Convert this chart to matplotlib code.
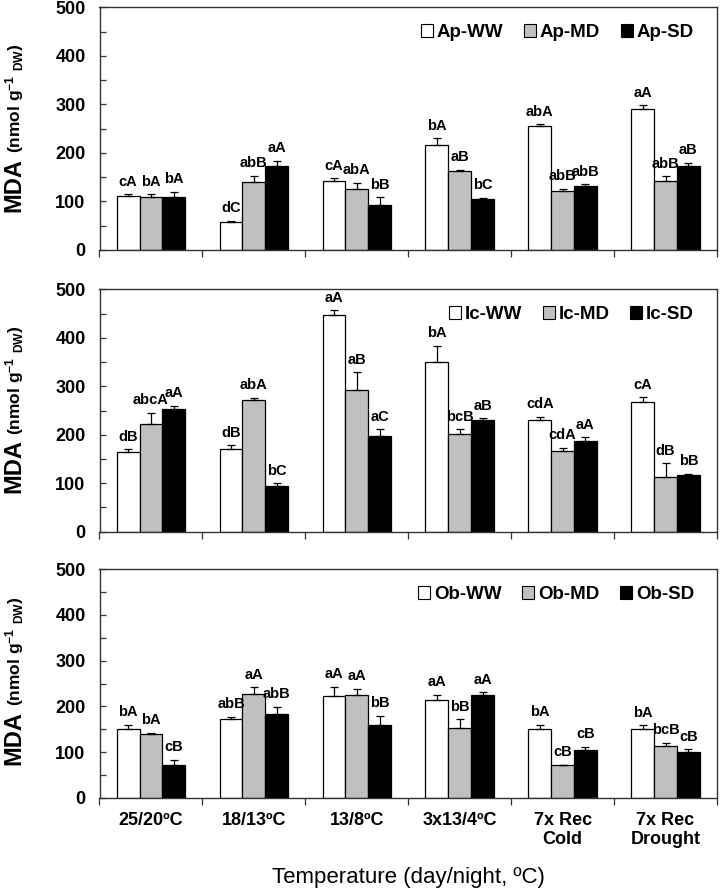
import matplotlib
matplotlib.use("Agg")
import matplotlib.pyplot as plt
from matplotlib.patches import Patch
import numpy as np

plt.rcParams['font.family'] = ['Liberation Sans', 'DejaVu Sans']
plt.rcParams['font.weight'] = 'bold'
plt.rcParams['mathtext.fontset'] = 'custom'
plt.rcParams['mathtext.rm'] = 'Liberation Sans:bold'
plt.rcParams['mathtext.bf'] = 'Liberation Sans:bold'
plt.rcParams['mathtext.it'] = 'Liberation Sans:bold'

categories = ["25/20ºC", "18/13ºC", "13/8ºC", "3x13/4ºC", "7x Rec\nCold", "7x Rec\nDrought"]
treatments = ["WW", "MD", "SD"]
species = ["Ap", "Ic", "Ob"]

# Ap
ap_ww = [111, 57, 143, 216, 255, 290]
ap_md = [110, 141, 126, 163, 122, 142]
ap_sd = [110, 174, 92, 105, 131, 173]
ap_ww_err = [4, 3, 5, 14, 4, 8]
ap_md_err = [5, 12, 12, 2, 4, 10]
ap_sd_err = [10, 10, 17, 3, 4, 7]
ap_ww_lab = ["cA", "dC", "cA", "bA", "abA", "aA"]
ap_md_lab = ["bA", "abB", "abA", "aB", "abB", "abB"]
ap_sd_lab = ["bA", "aA", "bB", "bC", "abB", "aB"]

# Ic
ic_ww = [164, 171, 447, 350, 231, 267]
ic_md = [223, 272, 292, 202, 166, 113]
ic_sd = [253, 95, 198, 231, 188, 116]
ic_ww_err = [6, 7, 10, 33, 6, 10]
ic_md_err = [22, 4, 37, 9, 7, 28]
ic_sd_err = [7, 5, 13, 3, 7, 3]
ic_ww_lab = ["dB", "dB", "aA", "bA", "cdA", "cA"]
ic_md_lab = ["abcA", "abA", "aB", "bcB", "cdA", "dB"]
ic_sd_lab = ["aA", "bC", "aC", "aB", "aA", "bB"]

# Ob
ob_ww = [151, 172, 223, 213, 151, 151]
ob_md = [140, 227, 225, 152, 71, 113]
ob_sd = [73, 184, 160, 225, 105, 101]
ob_ww_err = [9, 5, 20, 12, 9, 8]
ob_md_err = [2, 15, 13, 20, 1, 8]
ob_sd_err = [11, 15, 20, 6, 7, 5]
ob_ww_lab = ["bA", "abB", "aA", "aA", "bA", "bA"]
ob_md_lab = ["bA", "aA", "aA", "bB", "cB", "bcB"]
ob_sd_lab = ["cB", "abB", "bB", "aA", "cB", "cB"]

panels = [
    ("Ap", [ap_ww, ap_md, ap_sd], [ap_ww_err, ap_md_err, ap_sd_err], [ap_ww_lab, ap_md_lab, ap_sd_lab]),
    ("Ic", [ic_ww, ic_md, ic_sd], [ic_ww_err, ic_md_err, ic_sd_err], [ic_ww_lab, ic_md_lab, ic_sd_lab]),
    ("Ob", [ob_ww, ob_md, ob_sd], [ob_ww_err, ob_md_err, ob_sd_err], [ob_ww_lab, ob_md_lab, ob_sd_lab]),
]

colors = ["white", "#c0c0c0", "black"]
W, H = 725, 889
fig = plt.figure(figsize=(W / 100, H / 100), dpi=100)

left, right = 99.5 / W, 717 / W
boxes = [(7.3, 250), (289.3, 531.7), (569, 798)]
axcol = "#333333"

x = np.arange(len(categories))
bw = 0.222
offs = [-bw, 0, bw]

for i, (sp, vals, errs, labs) in enumerate(panels):
    top, bot = boxes[i]
    ax = fig.add_axes([left, 1 - bot / H, right - left, (bot - top) / H])
    for j in range(3):
        v = np.array(vals[j]); e = np.array(errs[j])
        ax.bar(x + offs[j], v, bw, color=colors[j], edgecolor="black", linewidth=0.9, zorder=2)
        ax.errorbar(x + offs[j], v, yerr=[np.zeros_like(e), e], fmt="none", ecolor="black",
                    elinewidth=0.9, capsize=3, capthick=0.9, zorder=3)
        for k in range(len(categories)):
            ax.annotate(labs[j][k], (x[k] + offs[j], v[k] + e[k]), xytext=(0, 4),
                        textcoords="offset points", ha="center", va="bottom",
                        fontsize=10.5, fontweight="bold")
    ax.set_xlim(-0.5, len(categories) - 0.5)
    ax.set_ylim(0, 500)
    ax.set_yticks(np.arange(0, 501, 100))
    ax.set_yticks(np.arange(50, 500, 100), minor=True)
    ax.tick_params(axis="y", which="both", direction="in", length=4, width=0.9, colors=axcol,
                   labelcolor="black", labelsize=13, pad=10)
    ax.set_xticks(x)
    ax.set_xticks(np.arange(-0.5, len(categories)), minor=True)
    ax.tick_params(axis="x", which="major", length=0, pad=10, labelsize=13)
    ax.tick_params(axis="x", which="minor", direction="out", length=5, width=0.9, colors=axcol)
    if i < 2:
        ax.set_xticklabels([])
    else:
        ax.set_xticklabels(categories, fontweight="bold", linespacing=1.2)
    for lbl in ax.get_yticklabels():
        lbl.set_fontweight("bold")
    for s in ax.spines.values():
        s.set_color(axcol); s.set_linewidth(1.0)
    handles = [Patch(facecolor=colors[j], edgecolor="black", linewidth=0.8) for j in range(3)]
    ax.legend(handles, [f"{sp}-{t}" for t in treatments], loc="upper right", ncol=3, frameon=False,
              prop={"weight": "bold", "size": 13.5}, handlelength=0.65, handleheight=0.65,
              handletextpad=0.2, columnspacing=1.1, borderaxespad=0.5, bbox_to_anchor=(0.99, 1.0))
    # y label
    ax.text(0.028, 1 - (top + 0.62 * (bot - top)) / H, "MDA", transform=fig.transFigure,
            rotation=90, rotation_mode="anchor", ha="right", va="baseline",
            fontsize=17, fontweight="bold")
    ax.text(0.028, 1 - (top + 0.60 * (bot - top)) / H, "(nmol g$^{-1}$ $_{\\mathregular{DW}}$)",
            transform=fig.transFigure, rotation=90, rotation_mode="anchor", ha="left",
            va="baseline", fontsize=12.5, fontweight="bold")

fig.text((left + right) / 2, 1 - 877 / H, "Temperature (day/night, ºC)", ha="center", va="center",
         fontsize=16, fontweight="normal")

fig.savefig("out.png", dpi=100)
